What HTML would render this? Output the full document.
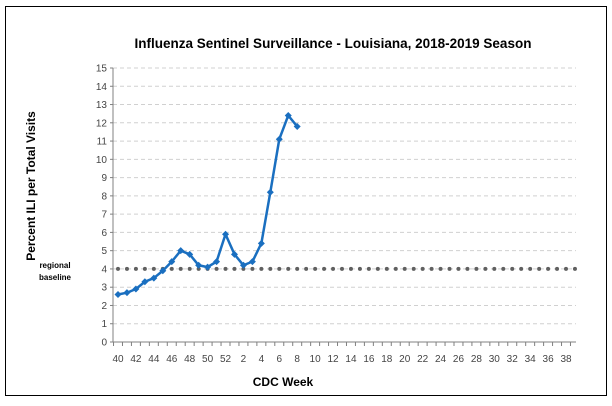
<!DOCTYPE html>
<html><head><meta charset="utf-8"><style>
body{margin:0;background:#fff;font-family:"Liberation Sans",sans-serif}
svg text{font-family:"Liberation Sans",sans-serif}
</style></head><body>
<svg id="chart" width="612" height="401" xmlns="http://www.w3.org/2000/svg">
<rect x="5.5" y="6.5" width="601" height="389" fill="#fff" stroke="#000" stroke-width="1"/>
<text x="333" y="48" text-anchor="middle" font-size="13.5" font-weight="bold">Influenza Sentinel Surveillance - Louisiana, 2018-2019 Season</text>
<text transform="translate(35,186) rotate(-90)" text-anchor="middle" font-size="12" font-weight="bold">Percent ILI per Total Visits</text>
<text x="55" y="268" text-anchor="middle" font-size="8" font-weight="bold">regional</text>
<text x="55" y="280" text-anchor="middle" font-size="8" font-weight="bold">baseline</text>
<text x="283" y="386" text-anchor="middle" font-size="12" font-weight="bold">CDC Week</text>
<g id="grid"></g><g id="axes"></g><g id="marks"></g>
</svg>
<script>
const weeks=[40,41,42,43,44,45,46,47,48,49,50,51,52,1,2,3,4,5,6,7,8,9,10,11,12,13,14,15,16,17,18,19,20,21,22,23,24,25,26,27,28,29,30,31,32,33,34,35,36,37,38,39];
const iliValues=[2.6,2.7,2.9,3.3,3.5,3.9,4.4,5.0,4.8,4.2,4.1,4.4,5.9,4.8,4.2,4.4,5.4,8.2,11.1,12.4,11.8];
const baselineValue=4.0;
const yTicks=[0,1,2,3,4,5,6,7,8,9,10,11,12,13,14,15];
const NS="http://www.w3.org/2000/svg";
const x0=113,x1=576,y0=342,y1=68;
const step=(566-118)/50;
function xs(i){return 118+i*step;}
function ys(v){return y0-(v/15)*(y0-y1);}
function mk(tag,attrs,parent){const e=document.createElementNS(NS,tag);for(const k in attrs)e.setAttribute(k,attrs[k]);parent.appendChild(e);return e;}
const grid=document.getElementById('grid'),axes=document.getElementById('axes'),marks=document.getElementById('marks');
yTicks.forEach(t=>{
 if(t>0){const g=mk('line',{x1:x0,x2:x1,y1:ys(t),y2:ys(t),stroke:'#d0d0d0','stroke-dasharray':'4,3'},grid);
 
 }
 const tk=mk('line',{x1:x0-3,x2:x0,y1:ys(t),y2:ys(t),stroke:'#808080'},axes);
 
 
 const tx=mk('text',{x:x0-6,y:ys(t)+3.5,'text-anchor':'end','font-size':'10',fill:'#444'},axes);
 tx.textContent=t;
 
 
});
const ya=mk('line',{x1:x0,x2:x0,y1:y1,y2:y0,stroke:'#808080'},axes);


const xa=mk('line',{x1:x0,x2:x1,y1:y0,y2:y0,stroke:'#808080'},axes);


weeks.forEach((w,i)=>{
 const tk=mk('line',{x1:xs(i)-step/2,x2:xs(i)-step/2,y1:y0,y2:y0+4,stroke:'#808080'},axes);
 
 
 if(i%2===0){const tx=mk('text',{x:xs(i),y:y0+20,'text-anchor':'middle','font-size':'10',fill:'#444'},axes);
 tx.textContent=w;
 
 }
 const d=mk('circle',{cx:xs(i),cy:ys(baselineValue),r:2,fill:'#606060'},marks);
 
 
});
const pl=mk('polyline',{points:iliValues.map((v,i)=>xs(i)+','+ys(v)).join(' '),fill:'none',stroke:'#1a6fc0','stroke-width':'2.5','stroke-linejoin':'round'},marks);


iliValues.forEach((v,i)=>{
 const x=xs(i),y=ys(v);
 const m=mk('polygon',{points:`${x},${y-3.5} ${x+3.5},${y} ${x},${y+3.5} ${x-3.5},${y}`,fill:'#1a6fc0'},marks);
 
 
});
</script>
</body></html>
